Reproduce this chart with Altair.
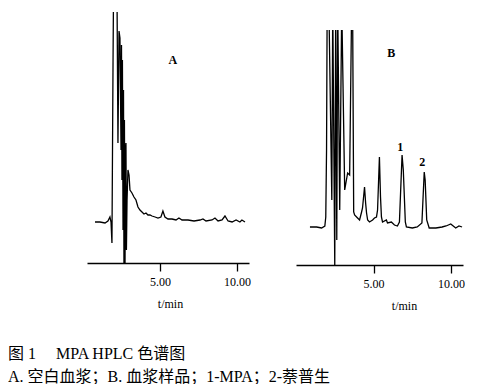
import altair as alt
import pandas as pd

# Panel A (blank plasma) trace: time (min), signal (arbitrary units)
ta = [0.78, 1.10, 1.43, 1.62, 1.75, 1.82, 1.88, 1.95, 1.98, 2.05, 2.14, 2.21, 2.27, 2.34,
      2.40, 2.47, 2.50, 2.53, 2.56, 2.60, 2.63, 2.66, 2.69, 2.73, 2.76, 2.79, 2.82, 2.86, 2.92,
      2.99, 3.05, 3.18, 3.31, 3.44, 3.57, 3.70, 3.83, 3.96, 4.09, 4.22, 4.35, 4.48, 4.68, 4.87,
      5.06, 5.19, 5.32, 5.52, 5.78, 6.04, 6.23, 6.43, 6.82, 7.21, 7.60, 7.79, 7.99, 8.38, 8.57,
      8.77, 9.03, 9.22, 9.42, 9.68, 9.94, 10.19, 10.32, 10.52]
va = [41, 41, 40, 42, 46, 41, 20, 200, 265, 265, 265, 265, 120, 232,
      225, 113, 218, 83, 203, 33, 173, 0, 143, 0, 113, 120, 13, 63, 93,
      88, 73, 70, 66, 63, 56, 53, 51, 49, 50, 48, 48, 47, 46, 45,
      46, 52, 46, 44, 44, 43, 45, 43, 43, 42, 43, 44, 42, 43, 45,
      42, 43, 47, 42, 41, 43, 41, 43, 41]

# Panel B (plasma sample) trace
tb = [0.90, 1.33, 1.65, 1.86, 1.92, 1.97, 2.01, 2.10, 2.12, 2.31, 2.37, 2.50, 2.56, 2.63, 2.69,
      2.82, 2.95, 3.14, 3.33, 3.46, 3.59, 3.65, 3.72, 3.78, 3.97, 4.10, 4.23, 4.29, 4.42, 4.49,
      4.55, 4.62, 4.74, 4.94, 5.06, 5.19, 5.26, 5.38, 5.45, 5.51, 5.58, 5.83, 5.90, 6.15, 6.35,
      6.54, 6.67, 6.84, 6.92, 7.05, 7.12, 7.50, 7.82, 8.12, 8.27, 8.33, 8.43, 8.59, 9.02, 9.42,
      9.68, 9.98, 10.30, 10.51, 10.71]
vb = [38, 38, 37, 39, 48, 115, 260, 260, 260, 65, 260, 0, 260, 25, 260,
      55, 260, 75, 92, 90, 260, 260, 53, 50, 47, 45, 53, 57, 78, 62,
      52, 45, 43, 45, 47, 48, 55, 108, 68, 48, 43, 45, 42, 43, 40,
      39, 43, 110, 95, 43, 38, 37, 38, 42, 93, 85, 45, 37, 37, 38,
      39, 41, 37, 39, 38]

tick_values = [5, 10]
panel_labels = ["A", "B"]
peak_labels = ["1", "2"]
peak_t = [6.73, 8.14]
peak_v = [118, 103]
caption_title = "图 1　 MPA HPLC 色谱图"
caption_sub = "A. 空白血浆；B. 血浆样品；1-MPA；2-萘普生"

SERIF = "Liberation Serif"
CAP_FONT = "'Liberation Serif', 'Noto Sans CJK SC'"

dfa = pd.DataFrame({"t": ta, "v": va, "i": range(len(ta))})
dfb = pd.DataFrame({"t": tb, "v": vb, "i": range(len(tb))})


def make_axis(title_x):
    return alt.Axis(values=tick_values, format=".2f", grid=False,
                    domainColor="black", domainWidth=1.5,
                    tickColor="black", tickSize=8, tickWidth=1.3,
                    labelFont=SERIF, labelFontSize=12, labelColor="black",
                    labelPadding=5, labelFlush=False,
                    title="t/min", titleFont=SERIF, titleFontSize=12,
                    titleFontWeight="normal", titleColor="black",
                    titlePadding=11, titleX=title_x)


def panel(df, domain, height, width, title_x, label, label_t, label_v, extra=None):
    xs = alt.Scale(domain=domain, nice=False, zero=False)
    ys = alt.Scale(domain=[0, height], nice=False)
    line = alt.Chart(df).mark_line(color="black", strokeWidth=1.3, clip=True).encode(
        x=alt.X("t:Q", scale=xs, axis=make_axis(title_x)),
        y=alt.Y("v:Q", scale=ys, axis=None),
        order="i:Q",
    )
    lab = alt.Chart(pd.DataFrame({"t": [label_t], "v": [label_v], "s": [label]})).mark_text(
        font=SERIF, fontWeight="bold", fontSize=12, color="black"
    ).encode(x=alt.X("t:Q", scale=xs), y=alt.Y("v:Q", scale=ys), text="s:N")
    layers = [line, lab]
    if extra is not None:
        layers.append(extra.encode(x=alt.X("t:Q", scale=xs), y=alt.Y("v:Q", scale=ys), text="s:N"))
    return alt.layer(*layers).properties(width=width, height=height)


peaks = alt.Chart(pd.DataFrame({"t": peak_t, "v": peak_v, "s": peak_labels})).mark_text(
    font=SERIF, fontWeight="bold", fontSize=12, color="black")

pa = panel(dfa, [0.26, 10.78], 251, 162, 83, panel_labels[0], 5.84, 203)
pb = panel(dfb, [0.0, 10.77], 235, 167, 108, panel_labels[1], 6.15, 212, peaks)

spacer = alt.Chart(pd.DataFrame({"v": [0]})).mark_point(opacity=0, size=0).encode(
    y=alt.Y("v:Q", axis=None)).properties(width=167, height=1)
right = alt.vconcat(spacer, pb, spacing=17)

chart = alt.hconcat(pa, right, spacing=45).properties(
    title=alt.TitleParams(text=caption_title, subtitle=caption_sub,
                          orient="bottom", anchor="start",
                          font=CAP_FONT, fontSize=16, fontWeight="normal", color="black",
                          subtitleFont=CAP_FONT, subtitleFontSize=16,
                          subtitleFontWeight="normal", subtitleColor="black",
                          subtitlePadding=7, offset=35, dx=-79),
    padding={"left": 0, "top": 4, "right": 5, "bottom": 5},
).configure_view(stroke=None)

chart.save("out.html", embed_options={"renderer": "svg", "actions": False})
